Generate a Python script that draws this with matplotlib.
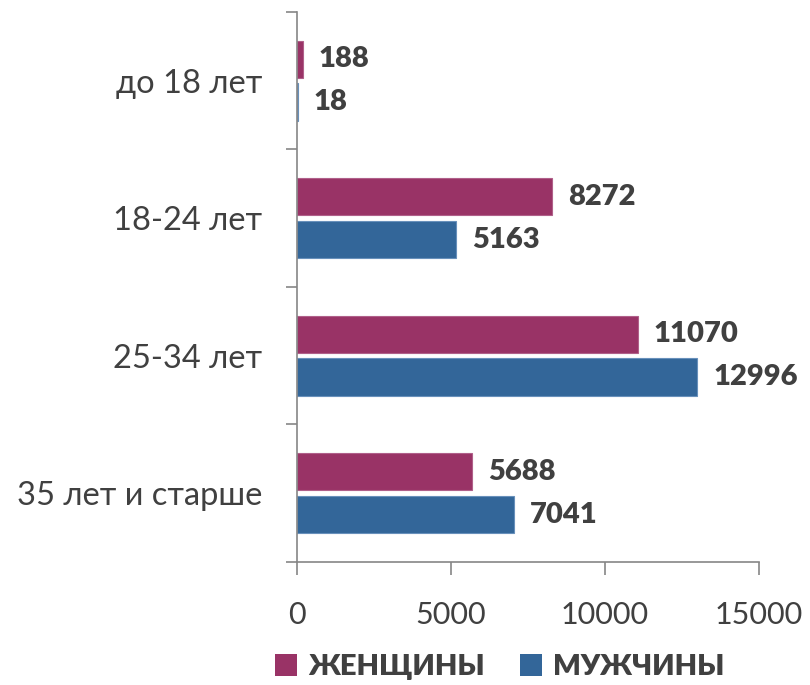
import numpy as np
import matplotlib.pyplot as plt
from matplotlib.patches import Patch

# Data
categories = ['до 18 лет', '18-24 лет', '25-34 лет', '35 лет и старше']
women = [188, 8272, 11070, 5688]
men = [18, 5163, 12996, 7041]
series_names = ['ЖЕНЩИНЫ', 'МУЖЧИНЫ']
x_ticks = [0, 5000, 10000, 15000]

c_women = '#993366'
c_men = '#336699'
c_text = '#404040'
c_axis = '#868686'

plt.rcParams['font.family'] = ['Lato', 'DejaVu Sans']

fig = plt.figure(figsize=(8.1, 6.85), dpi=100)
ax = fig.add_axes([0.3667, 0.1796, 0.5703, 0.8029])

y = np.arange(len(categories))
h = 0.27
gap = 0.02
b1 = ax.barh(y - h / 2 - gap, women, height=h, color=c_women, edgecolor='#b0608a', linewidth=0.8)
b2 = ax.barh(y + h / 2 + gap, men, height=h, color=c_men, edgecolor='#6890bb', linewidth=0.8)

# value labels
for bars, vals in ((b1, women), (b2, men)):
    for rect, v in zip(bars, vals):
        ax.annotate(str(v), (rect.get_width(), rect.get_y() + rect.get_height() / 2),
                    xytext=(16, 0), textcoords='offset pixels',
                    ha='left', va='center', fontsize=21, fontweight='heavy', color=c_text)

ax.set_xlim(0, 15000)
ax.set_ylim(len(categories) - 0.5, -0.5)
ax.set_xticks(x_ticks)
ax.set_xticklabels([str(t) for t in x_ticks])
ax.set_yticks(y)
ax.set_yticklabels(categories)
ax.set_yticks(np.arange(len(categories) + 1) - 0.5, minor=True)

for s in ('top', 'right'):
    ax.spines[s].set_visible(False)
for s in ('left', 'bottom'):
    ax.spines[s].set_color(c_axis)
    ax.spines[s].set_linewidth(1.2)

ax.tick_params(axis='y', which='major', length=0, pad=25, labelsize=23.5, labelcolor=c_text)
ax.tick_params(axis='y', which='minor', length=8, width=1.2, color=c_axis)
ax.tick_params(axis='x', which='major', length=9, width=1.2, color=c_axis, pad=19,
               labelsize=22, labelcolor=c_text)

handles = [Patch(facecolor=c_women), Patch(facecolor=c_men)]
leg = fig.legend(handles, series_names, loc='center', bbox_to_anchor=(0.617, 0.026),
                 ncol=2, frameon=False, handlelength=0.75, handleheight=0.75,
                 handletextpad=0.4, columnspacing=1.2,
                 prop={'size': 21, 'weight': 'heavy'})
for t in leg.get_texts():
    t.set_color(c_text)

fig.savefig('out.png', dpi=100)
